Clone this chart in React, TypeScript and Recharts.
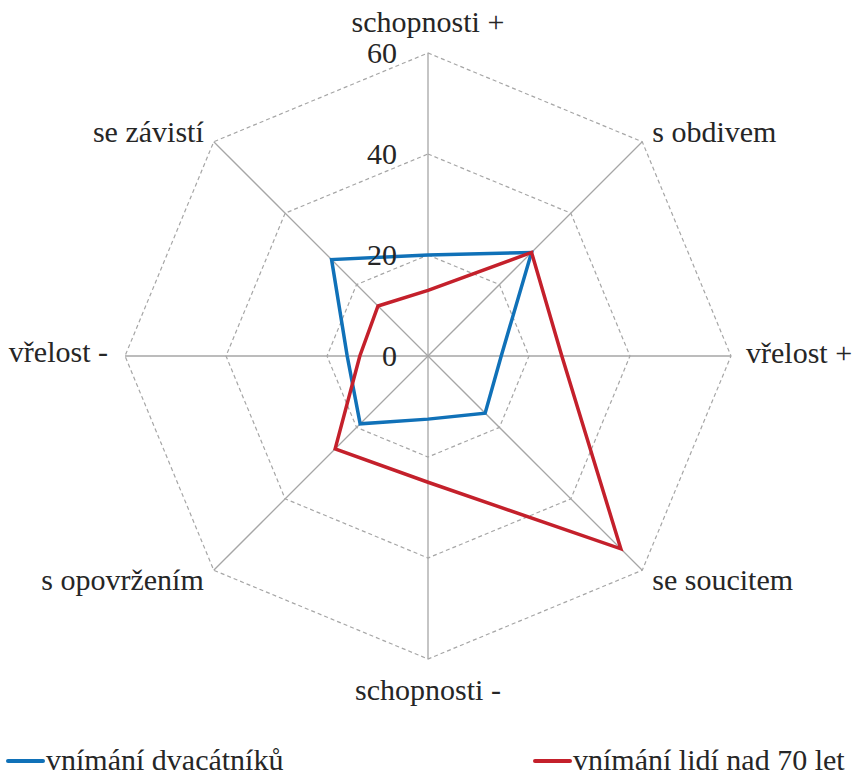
import React from "react";
import {
  RadarChart,
  Radar,
  PolarGrid,
  PolarAngleAxis,
  PolarRadiusAxis,
  Legend,
} from "recharts";

const categories = [
  "schopnosti +",
  "s obdivem",
  "vřelost +",
  "se soucitem",
  "schopnosti -",
  "s opovržením",
  "vřelost -",
  "se závistí",
];
const dvacatnici = [20, 29, 14.5, 16, 12.5, 19, 16, 27];
const nad70 = [13, 29, 26.5, 54, 25, 26, 13.5, 14];
const radiusTicks = [0, 20, 40, 60];

const seriesNames = ["vnímání dvacátníků", "vnímání lidí nad 70 let"];
const colors = ["#1071b8", "#c4202b"];

const W = 856;
const H = 777;
const CX = 428;
const CY = 356;
const R = 303;
const FONT =
  "Liberation Serif, LiberationSerif, Times New Roman, Times, DejaVu Serif, Noto Serif, serif";
const TEXT = "#262626";

const data = categories.map((c, i) => ({
  name: c,
  young: dvacatnici[i],
  old: nad70[i],
}));

function AngleTick(props: any) {
  const { x, y, payload } = props;
  const dx = x - CX;
  const dy = y - CY;
  const d = Math.hypot(dx, dy) || 1;
  const ux = dx / d;
  const uy = dy / d;
  const vx = CX + ux * R;
  const vy = CY + uy * R;

  let tx = vx;
  let ty = vy;
  let anchor: "start" | "middle" | "end" = "middle";
  if (Math.abs(ux) < 0.1) {
    ty = uy < 0 ? vy - 21 : vy + 41;
  } else if (Math.abs(uy) < 0.1) {
    if (ux > 0) {
      anchor = "start";
      tx = vx + 15;
      ty = vy + 7;
    } else {
      anchor = "end";
      tx = vx - 17;
      ty = vy + 6;
    }
  } else {
    anchor = ux > 0 ? "start" : "end";
    tx = ux > 0 ? vx + 10 : vx - 10;
    ty = uy < 0 ? vy : vy + 20;
  }

  return (
    <text
      x={tx}
      y={ty}
      textAnchor={anchor}
      style={{ fontFamily: FONT }}
      fontSize={30}
      fill={TEXT}
    >
      {payload.value}
    </text>
  );
}

function RadiusTick(props: any) {
  const { x, y, payload } = props;
  return (
    <text
      x={x - 31}
      y={y + 10}
      textAnchor="end"
      style={{ fontFamily: FONT }}
      fontSize={30}
      fill={TEXT}
    >
      {payload.value}
    </text>
  );
}

function LegendContent() {
  const lefts = [6, 533];
  return (
    <div style={{ position: "relative", width: W, height: 36 }}>
      {seriesNames.map((n, i) => (
        <div
          key={n}
          style={{
            position: "absolute",
            left: lefts[i],
            top: 0,
            display: "flex",
            alignItems: "center",
            whiteSpace: "nowrap",
          }}
        >
          <span
            style={{
              display: "inline-block",
              width: 39,
              height: 4,
              borderRadius: 2,
              background: colors[i],
              marginTop: 2,
            }}
          />
          <span
            style={{
              fontFamily: FONT,
              fontSize: 30,
              lineHeight: "30px",
              color: TEXT,
              marginLeft: 1,
            }}
          >
            {n}
          </span>
        </div>
      ))}
    </div>
  );
}

export default function App() {
  return (
    <div
      style={{
        position: "absolute",
        left: 0,
        top: 0,
        width: W,
        height: H,
        background: "#ffffff",
        fontFamily: FONT,
      }}
    >
      <RadarChart
        width={W}
        height={H}
        data={data}
        cx={CX}
        cy={CY}
        outerRadius={R}
        margin={{ top: 0, right: 0, bottom: 0, left: 0 }}
      >
        {/* dashed rings */}
        <PolarGrid
          gridType="polygon"
          radialLines={false}
          stroke="#a6a6a6"
          strokeWidth={1.2}
          strokeDasharray="4 3"
        />
        {/* solid spokes */}
        <PolarGrid
          gridType="polygon"
          polarRadius={[0]}
          stroke="#a6a6a6"
          strokeWidth={1.3}
        />
        <PolarAngleAxis
          dataKey="name"
          axisLine={false}
          tickLine={false}
          tick={<AngleTick />}
        />
        <PolarRadiusAxis
          angle={90}
          domain={[0, 60]}
          ticks={radiusTicks as any}
          tickCount={4}
          axisLine={false}
          tickLine={false}
          tick={<RadiusTick />}
        />
        <Radar
          name={seriesNames[0]}
          dataKey="young"
          stroke={colors[0]}
          strokeWidth={3.5}
          fill="none"
          fillOpacity={0}
          dot={false}
          isAnimationActive={false}
        />
        <Radar
          name={seriesNames[1]}
          dataKey="old"
          stroke={colors[1]}
          strokeWidth={3.5}
          fill="none"
          fillOpacity={0}
          dot={false}
          isAnimationActive={false}
        />
        <Legend
          content={<LegendContent />}
          wrapperStyle={{ position: "absolute", left: 0, top: 745, width: W }}
        />
      </RadarChart>
    </div>
  );
}
